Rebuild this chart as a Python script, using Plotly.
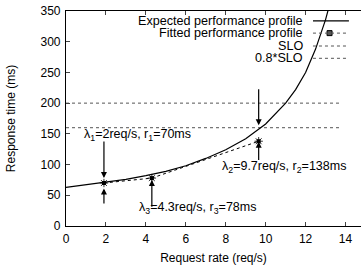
import plotly.graph_objects as go

# Expected performance profile
exp_x = [0, 1, 2, 3, 4, 5, 6, 7, 8, 9, 10, 11, 11.5, 12, 12.5, 13, 13.3]
exp_y = [63, 67, 71, 76, 82, 89, 98, 110, 124, 142, 166, 200, 222, 250, 288, 336, 372]

# Fitted performance profile (measured points)
fit_x = [1.9, 4.3, 9.65]
fit_y = [70, 78, 138]

slo = 200
slo08 = 160
slo_x = [0, 13.8]

tick_x = [0, 2, 4, 6, 8, 10, 12, 14]
tick_y = [0, 50, 100, 150, 200, 250, 300, 350]

legend_labels = ["Expected performance profile", "Fitted performance profile", "SLO", "0.8*SLO"]

FONT = "Liberation Sans, Arial, Helvetica, sans-serif"
DOT = "#555555"

fig = go.Figure()

fig.add_trace(go.Scatter(x=slo_x, y=[slo, slo], mode="lines",
                         line=dict(color=DOT, width=1, dash="dot"), showlegend=False))
fig.add_trace(go.Scatter(x=slo_x, y=[slo08, slo08], mode="lines",
                         line=dict(color=DOT, width=1, dash="dot"), showlegend=False))
fig.add_trace(go.Scatter(x=exp_x, y=exp_y, mode="lines",
                         line=dict(color="black", width=1.2), showlegend=False))
fig.add_trace(go.Scatter(x=fit_x, y=fit_y, mode="lines+markers",
                         line=dict(color="black", width=1, dash="dot"),
                         marker=dict(symbol="square", size=4, color="black"),
                         showlegend=False))
fig.add_trace(go.Scatter(x=fit_x, y=fit_y, mode="markers",
                         marker=dict(symbol="asterisk-open", size=7, color="black",
                                     line=dict(color="black", width=0.8)),
                         showlegend=False))

# arrows (tail -> head) in data coordinates
arrows = [
    (1.9, 140, 1.9, 78),
    (1.9, 34, 1.9, 61),
    (9.65, 225, 9.65, 164),
    (9.65, 105, 9.65, 137),
    (4.3, 29, 4.3, 75),
]
for tx, ty, hx, hy in arrows:
    fig.add_annotation(x=hx, y=hy, ax=tx, ay=ty, xref="x", yref="y", axref="x", ayref="y",
                       showarrow=True, arrowhead=2, arrowsize=1, arrowwidth=1.2,
                       arrowcolor="black", text="")

labels = [
    (3.6, 148, "λ<sub>1</sub>=2req/s, r<sub>1</sub>=70ms"),
    (10.9, 96, "λ<sub>2</sub>=9.7req/s, r<sub>2</sub>=138ms"),
    (6.57, 29, "λ<sub>3</sub>=4.3req/s, r<sub>3</sub>=78ms"),
]
for lx, ly, t in labels:
    fig.add_annotation(x=lx, y=ly, xref="x", yref="y", text=t, showarrow=False,
                       font=dict(size=12.5, color="black", family=FONT))

# manual legend (text left, sample right)
leg_y = [334, 314, 293, 273]
for i, (lab, ly) in enumerate(zip(legend_labels, leg_y)):
    fig.add_annotation(x=11.97, y=ly, xref="x", yref="y", text=lab, showarrow=False,
                       xanchor="right", font=dict(size=12.6, color="black", family=FONT))
    if i == 0:
        fig.add_shape(type="line", x0=12.37, x1=14.17, y0=ly, y1=ly, xref="x", yref="y",
                      line=dict(color="black", width=1.2))
    else:
        fig.add_shape(type="line", x0=12.37, x1=14.17, y0=ly, y1=ly, xref="x", yref="y",
                      line=dict(color=DOT, width=1, dash="dot"))
fig.add_trace(go.Scatter(x=[13.2], y=[leg_y[1]], mode="markers",
                         marker=dict(symbol="square", size=5, color=DOT,
                                     line=dict(color="black", width=1)),
                         showlegend=False))

fig.update_layout(
    width=361, height=268,
    margin=dict(l=66, r=0, t=11, b=42),
    paper_bgcolor="white", plot_bgcolor="white",
    font=dict(family=FONT, size=12, color="black"),
    showlegend=False,
)
fig.update_xaxes(range=[0, 14.775], tickvals=tick_x, ticks="inside", ticklen=4,
                 showline=True, linecolor="black", linewidth=1.2, mirror="ticks",
                 showgrid=False, zeroline=False, tickfont=dict(size=12),
                 ticklabelstandoff=1, ticklabeloverflow="allow",
                 title=dict(text="Request rate (req/s)", font=dict(size=12), standoff=9))
fig.update_yaxes(range=[0, 350], tickvals=tick_y, ticks="inside", ticklen=4,
                 showline=True, linecolor="black", linewidth=1.2, mirror=False,
                 showgrid=False, zeroline=False, tickfont=dict(size=12),
                 ticklabelstandoff=2, ticklabeloverflow="allow",
                 title=dict(text="Response time (ms)", font=dict(size=12), standoff=22))

fig.write_html("out.html", config={"displayModeBar": False},
               post_script="document.body.style.margin='0';")
